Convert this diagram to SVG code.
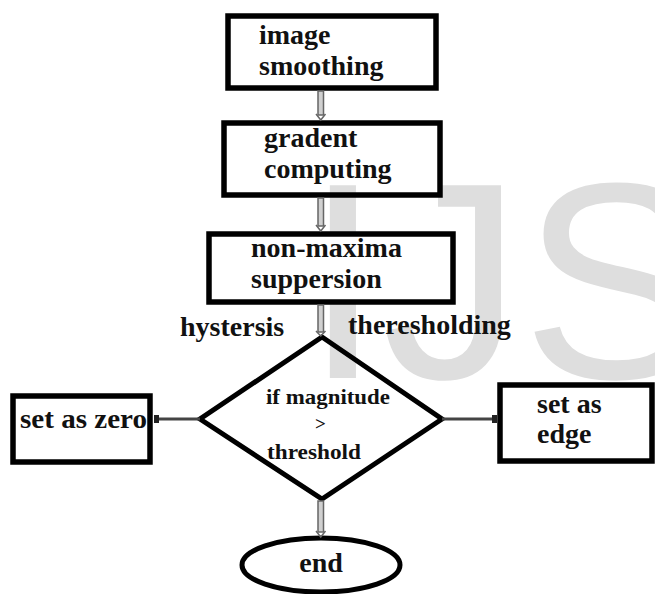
<svg xmlns="http://www.w3.org/2000/svg" width="655" height="594" viewBox="0 0 655 594">
  <style>
    .t { font-family: "Liberation Serif", "Times New Roman", serif; font-weight: bold; fill: #111; }
    .big { font-size: 28px; }
    .small { font-size: 22px; }
    .box { stroke: #000; stroke-width: 5.5; }
    .wm { font-family: "Liberation Sans", Arial, sans-serif; font-size: 280px; fill: #dedede; }
    .vc { fill: #d0d0d0; stroke: #666; stroke-width: 1.5; }
    .hc { stroke: #444; stroke-width: 3; fill: none; }
  </style>
  <defs>
    <marker id="hah" markerWidth="8" markerHeight="10" refX="7" refY="5" orient="auto" markerUnits="userSpaceOnUse" viewBox="0 0 8 10">
      <rect x="2" y="1" width="5" height="8" fill="#222"/>
    </marker>
  </defs>
  <rect width="655" height="594" fill="#fff"/>
  <text class="wm" x="304" y="378">IJS</text>

  <g id="node-image-smoothing">
    <rect class="box" x="228" y="16" width="208" height="72" fill="#fff"/>
    <text class="t big" x="259" y="44">image</text>
    <text class="t big" x="259" y="75">smoothing</text>
  </g>
  <g id="node-gradent-computing">
    <rect class="box" x="224" y="123" width="216" height="72" fill="none"/>
    <text class="t big" x="264" y="147">gradent</text>
    <text class="t big" x="264" y="178">computing</text>
  </g>
  <g id="node-non-maxima">
    <rect class="box" x="209" y="234" width="244" height="68" fill="#fff"/>
    <text class="t big" x="251" y="257">non-maxima</text>
    <text class="t big" x="251" y="288">suppersion</text>
  </g>
  <g id="node-decision">
    <polygon points="322,337 442,419 322,499 200,419" fill="none" stroke="#000" stroke-width="5" stroke-linejoin="miter"/>
    <text class="t small" x="266" y="404" textLength="124" lengthAdjust="spacingAndGlyphs">if magnitude</text>
    <text class="t" x="315" y="430" font-size="19">&gt;</text>
    <text class="t small" x="267" y="459" textLength="94" lengthAdjust="spacingAndGlyphs">threshold</text>
  </g>
  <g id="node-set-zero">
    <rect class="box" x="13" y="396" width="137" height="66" fill="#fff"/>
    <text class="t big" x="20" y="428" textLength="127" lengthAdjust="spacingAndGlyphs">set as zero</text>
  </g>
  <g id="node-set-edge">
    <rect class="box" x="500" y="385" width="152" height="76" fill="#fff"/>
    <text class="t big" x="537" y="413">set as</text>
    <text class="t big" x="537" y="443">edge</text>
  </g>
  <g id="node-end">
    <ellipse cx="321" cy="565" rx="79" ry="27" fill="#fff" stroke="#000" stroke-width="5"/>
    <text class="t big" x="321" y="572" text-anchor="middle">end</text>
  </g>

  <g id="labels">
    <text class="t big" x="180" y="336">hystersis</text>
    <text class="t big" x="348" y="334">theresholding</text>
  </g>

  <g id="connectors">
    <rect class="vc" x="318" y="91" width="5.5" height="24"/>
    <path d="M316,114 L320.75,120 L325.5,114" fill="none" stroke="#666" stroke-width="1.5"/>
    <rect class="vc" x="318" y="198" width="5.5" height="28"/>
    <path d="M316,225 L320.75,231 L325.5,225" fill="none" stroke="#666" stroke-width="1.5"/>
    <rect class="vc" x="318" y="305" width="5.5" height="27"/>
    <path d="M316,331 L320.75,336 L325.5,331" fill="none" stroke="#666" stroke-width="1.5"/>
    <rect class="vc" x="318" y="501" width="5.5" height="31"/>
    <path d="M316,531 L320.75,537 L325.5,531" fill="none" stroke="#666" stroke-width="1.5"/>
    <line class="hc" x1="200" y1="419" x2="154" y2="419" marker-end="url(#hah)"/>
    <line class="hc" x1="442" y1="419" x2="497" y2="419" marker-end="url(#hah)"/>
  </g>
</svg>
